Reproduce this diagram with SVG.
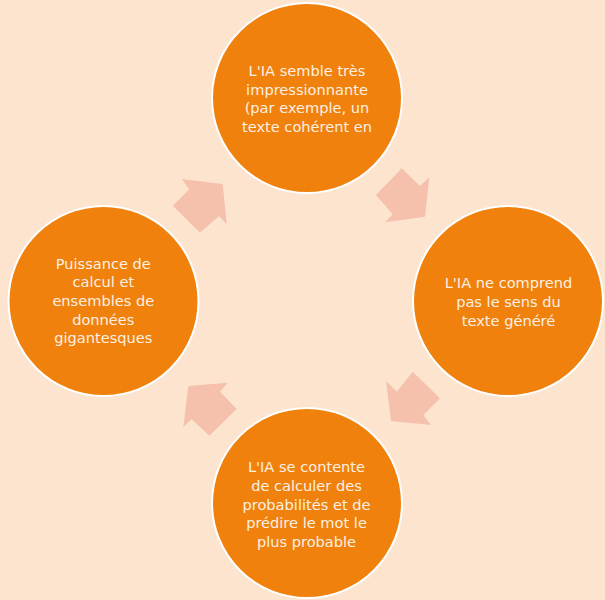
<svg xmlns="http://www.w3.org/2000/svg" width="605" height="600" viewBox="0 0 605 600">
<style>
.node circle{fill:#F0810D;stroke:#FFFFFF;stroke-width:2}
.node text{font-family:"DejaVu Sans","Open Sans",sans-serif;font-size:14.6px;fill:#FDF0E2;text-anchor:middle}
.arrow{fill:#F5C1AC}
</style>
<rect x="0" y="0" width="605" height="600" fill="#FCE4CF"/>
<g id="connectors">
<polygon class="arrow" points="181.7,179 222.7,184 226.7,224 219,216 200,232.7 172.7,205.7 189.3,189.3"/>
<polygon class="arrow" points="401.7,168.3 420,186 429.3,177.3 425,216.7 385,222.3 392.7,214.3 376,195"/>
<polygon class="arrow" points="412.7,371.7 440,398.3 423.3,415 431,425 391,421 386,380.7 396.7,391.7"/>
<polygon class="arrow" points="188.3,386 227.7,382.7 220,391.7 236.7,409 209.3,435.7 191.7,419.3 183.3,426.7"/>
</g>
<g id="node-top" class="node">
<circle cx="307" cy="98" r="95"/>
<text x="307" y="76">L'IA semble très</text>
<text x="307" y="94.6">impressionnante</text>
<text x="307" y="113.2">(par exemple, un</text>
<text x="307" y="131.8">texte cohérent en</text>
</g>
<g id="node-right" class="node">
<circle cx="508" cy="301" r="95"/>
<text x="508.5" y="287.5">L'IA ne comprend</text>
<text x="508.5" y="306.5">pas le sens du</text>
<text x="508.5" y="325.5">texte généré</text>
</g>
<g id="node-bottom" class="node">
<circle cx="307" cy="503" r="95"/>
<text x="306.5" y="472.3">L'IA se contente</text>
<text x="306.5" y="491">de calculer des</text>
<text x="306.5" y="509.7">probabilités et de</text>
<text x="306.5" y="528.4">prédire le mot le</text>
<text x="306.5" y="547">plus probable</text>
</g>
<g id="node-left" class="node">
<circle cx="103.5" cy="301" r="95"/>
<text x="103.3" y="268.5">Puissance de</text>
<text x="103.3" y="287.2">calcul et</text>
<text x="103.3" y="305.9">ensembles de</text>
<text x="103.3" y="324.6">données</text>
<text x="103.3" y="343.3">gigantesques</text>
</g>
</svg>
